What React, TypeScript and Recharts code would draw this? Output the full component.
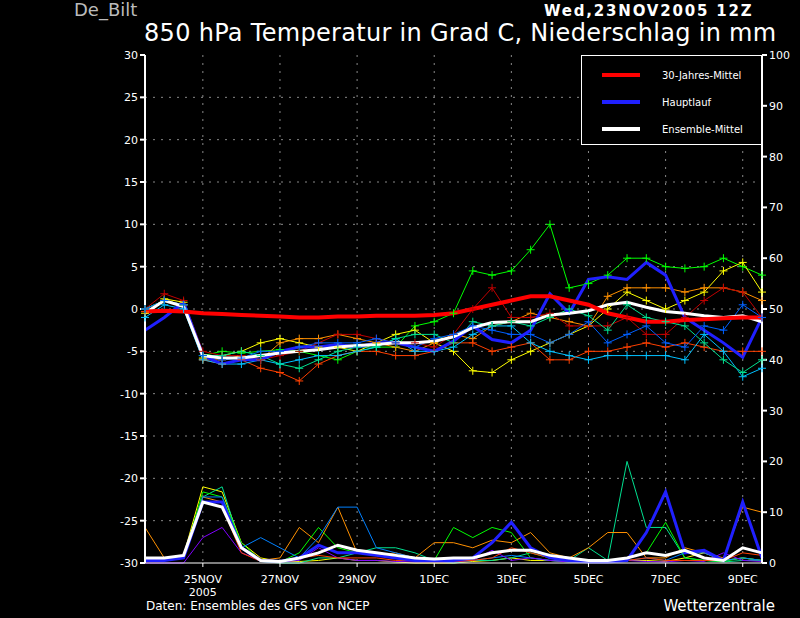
import React from 'react';
import { ComposedChart, Line, XAxis, YAxis, CartesianGrid } from 'recharts';

const steps = Array.from({ length: 33 }, (_, i) => i);
const tickIdx = [3, 7, 11, 15, 19, 23, 27, 31];
const tickLabels = ['25NOV', '27NOV', '29NOV', '1DEC', '3DEC', '5DEC', '7DEC', '9DEC'];

const climTemp = [-0.3,-0.2,-0.3,-0.5,-0.6,-0.7,-0.8,-0.9,-1,-1,-0.9,-0.9,-0.8,-0.8,-0.8,-0.7,-0.5,0,0.5,1,1.5,1.5,1,0.5,-0.5,-1,-1.5,-1.5,-1.3,-1.2,-1.1,-1,-1];
const mainTemp = [-2.5,-1,0.8,-5.5,-6.5,-6,-6,-5,-4.5,-4.5,-4.2,-4.5,-4,-4,-4.5,-5,-3.8,-2,-3.6,-4,-2.5,1.8,-0.5,3.5,3.8,3.5,5.5,4,-1,-2.5,-4,-5.7,-1];
const meanTemp = [-0.5,1,0.3,-5.5,-5.8,-5.8,-5.5,-5.2,-5,-4.8,-4.5,-4.3,-4.2,-4,-4,-3.8,-3.3,-2.2,-1.6,-1.5,-1.5,-0.7,-0.5,-0.2,0.5,0.8,0.2,-0.3,-0.5,-0.8,-1,-0.8,-1.5];
const m1 = [0,1,0.5,-5.5,-5,-5.2,-5,-4.8,-5,-5.5,-6,-5,-4.5,-4.5,-2,-1.5,-0.5,4.5,4,4.5,7,10,2.5,3,4,6,6,5,4.8,5,6,5,4];
const m2 = [-0.5,1.2,0.8,-5.8,-5.5,-5,-4,-3.5,-4,-4.5,-4.5,-5,-4,-3,-2.5,-4,-5,-7.3,-7.5,-6,-5,-4,-3,-2,0,2,1,0,1,2,4.5,5.5,2];
const m3 = [0,1,0.5,-6,-6,-5.5,-6,-4,-3.5,-3.5,-3,-3.5,-4,-4.5,-5,-4,-3,-3.5,-2,-1.5,-0.5,-1,-1.5,-2,1.5,2.5,2.5,2.5,2,2.5,2.5,2,1];
const m4 = [-0.3,1,0.5,-6,-6.5,-6,-7,-7.5,-8.5,-6.5,-5.5,-5,-5,-5.5,-5.5,-5,-4,-4,-5,-4.5,-4,-6,-6,-5,-5,-4.5,-4,-4.5,-4,-4.5,-5,-5,-5];
const m5 = [-1,0.5,0,-6,-6.5,-6.5,-6,-6.5,-6,-5.5,-5.5,-5,-4.5,-3.5,-5,-5,-4.5,-3,-2,-2,-4,-5,-5.5,-6,-5.5,-5.5,-5.5,-5.5,-6,-3,-5,-8,-7];
const m6 = [0,1.8,1,-5,-5.5,-5.5,-6,-5.5,-5,-4,-3,-3,-3.5,-4,-4,-4.5,-3,0,2.5,-1,-1,-0.5,-2,-2,-2,-1,-3,-3,-1,1,2.5,2,-1];
const m7 = [0,1,0.5,-5.5,-5.5,-5,-5.5,-6.5,-7,-6,-5,-4.5,-4.5,-3.5,-3,-3,-4,-1.5,-2,-1.5,-2,-1,0,-0.8,-2.5,0.5,-1,-1.5,-2,-4,-6,-7.5,-6];
const m8 = [0,1,0.5,-5.5,-6,-5.8,-5,-5,-4.5,-4,-4,-4,-3.5,-4,-4.5,-3.5,-3,-2,-2.5,-3,-3,-4,-3,-1.5,-4,-3,-2,-4,-4.5,-2,-2.5,0.5,-1];

const mainPrec = [0.5,0.5,1,12,12,3,0.5,0.3,1,3.5,2,2,1.5,1,0.5,0.5,0.5,1,4,8,3,1,0.5,0.2,0.2,0.5,6,14,2,2.5,0.5,12,1];
const meanPrec = [1,1,1.5,12,11,3,0.5,0.3,1,2,3.5,2.5,2,1.5,1,0.8,1,1,2,2.5,2.5,1.5,1,0.5,0.5,1,2,1.5,2.5,1,0.5,3,2];
const p1 = [1,1,1.5,15,14,4,1,0.3,0.3,0.5,1,0.5,0.5,0.2,0,0,0,0.3,0.5,1,0.5,0.5,0.3,0.2,0.2,0.5,0.5,0.3,1,2,0.5,1,0.5];
const p2 = [1,0.5,1.5,13,15,3,0.3,0,0,1,1,2,3,3,2,0.5,0,0.5,0.5,1,2,1,0.5,3,0.5,20,7,7,1,0.5,0.2,0.5,0.5];
const p3 = [7,1,1.5,13,12,3,0.5,1,7,4,11,2,1.5,2,1,4,4,3,4.5,4,6,2,1,3,6,6,1,1,3,2,1,11,10];
const p4 = [1,0.5,1,14,13,4,0.5,0.2,2,7,3,2,1.5,1,0.5,0.5,7,5,7,6,1,0.5,0.2,0.2,0.5,1,2,8,1,0.5,0.3,1,0.5];
const p5 = [0.5,0.5,1,13,13,3,5,3,1,5,11,11,3,2,1,0.5,0.5,0.5,1,1.5,1,0.5,0.3,0.2,0.5,0.5,1,0.5,2,2,0.5,1,0.5];
const p6 = [0,0,0,5,7,2,0.5,0.2,0.5,3,1,0.5,0.5,0.3,0.2,0.2,0.2,0.5,2.5,0.5,1,0.5,0.2,0.2,0.2,0.5,0.3,0.2,0.5,0.3,2,0.5,0.3];
const p7 = [0.5,0.5,1,12,11,2,0.3,0.3,1,1.5,1,1,1,0.5,0.5,0.3,0.3,0.5,1,3,2,1,0.5,0.5,0.5,0.5,1,0.5,0.5,0.5,0.5,2,1.5];

const members = [
  { key: 'm1', v: m1, c: '#00ff00' },
  { key: 'm2', v: m2, c: '#ffff00' },
  { key: 'm3', v: m3, c: '#ff9000' },
  { key: 'm4', v: m4, c: '#ff4000' },
  { key: 'm5', v: m5, c: '#00c0ff' },
  { key: 'm6', v: m6, c: '#c00000' },
  { key: 'm7', v: m7, c: '#00e090' },
  { key: 'm8', v: m8, c: '#0060ff' },
];
const precMembers = [
  { key: 'p1', v: p1, c: '#ffff00' },
  { key: 'p2', v: p2, c: '#00e090' },
  { key: 'p3', v: p3, c: '#ff9000' },
  { key: 'p4', v: p4, c: '#00ff00' },
  { key: 'p5', v: p5, c: '#0080ff' },
  { key: 'p6', v: p6, c: '#8000ff' },
  { key: 'p7', v: p7, c: '#ff4000' },
];

const data = steps.map((t, i) => {
  const row: any = { t, clim: climTemp[i], main: mainTemp[i], mean: meanTemp[i], mainP: mainPrec[i], meanP: meanPrec[i] };
  members.forEach(m => { row[m.key] = m.v[i]; });
  precMembers.forEach(m => { row[m.key] = m.v[i]; });
  return row;
});

const Cross = (color: string) => (props: any) => {
  const { cx, cy, index } = props;
  if (cx == null || cy == null) return <g key={index} />;
  return (
    <g key={index} stroke={color} strokeWidth={1}>
      <line x1={cx - 4} y1={cy} x2={cx + 4} y2={cy} />
      <line x1={cx} y1={cy - 4} x2={cx} y2={cy + 4} />
    </g>
  );
};

const XTick = (props: any) => {
  const { x, y, payload } = props;
  const i = tickIdx.indexOf(payload.value);
  return (
    <g>
      <text x={x} y={y + 14} fill="#fff" fontSize={11} textAnchor="middle" fontFamily="DejaVu Sans">{tickLabels[i]}</text>
      {i === 0 && <text x={x} y={y + 27} fill="#fff" fontSize={11} textAnchor="middle" fontFamily="DejaVu Sans">2005</text>}
    </g>
  );
};

const LegendBox = () => (
  <div style={{ position: 'absolute', left: 581, top: 55, width: 179, height: 88, border: '1px solid #fff', background: '#000', fontFamily: 'DejaVu Sans', fontSize: 10, color: '#fff' }}>
    {[['#ff0000', '30-Jahres-Mittel'], ['#2020ff', 'Hauptlauf'], ['#ffffff', 'Ensemble-Mittel']].map(([c, l], i) => (
      <div key={l} style={{ display: 'flex', alignItems: 'center', height: 20, marginTop: i === 0 ? 9 : 7 }}>
        <div style={{ width: 38, height: 4, background: c, marginLeft: 20, marginRight: 22 }} />
        <span>{l}</span>
      </div>
    ))}
  </div>
);

export default function App() {
  return (
    <div style={{ position: 'absolute', left: 0, top: 0, width: 800, height: 618, background: '#000', overflow: 'hidden' }}>
      <div style={{ position: 'absolute', left: 74, top: 0, color: '#bbb', fontSize: 18, lineHeight: '20px', fontFamily: 'DejaVu Sans' }}>De_Bilt</div>
      <div style={{ position: 'absolute', left: 544, top: 4, color: '#fff', fontSize: 15, lineHeight: '15px', letterSpacing: 1.8, fontWeight: 'bold', fontFamily: 'DejaVu Sans' }}>Wed,23NOV2005 12Z</div>
      <div style={{ position: 'absolute', left: 144, top: 21, color: '#fff', fontSize: 24, lineHeight: '25px', letterSpacing: 0.3, fontFamily: 'DejaVu Sans' }}>850 hPa Temperatur in Grad C, Niederschlag in mm</div>
      <div style={{ position: 'absolute', left: 146, top: 599, color: '#fff', fontSize: 12, fontFamily: 'DejaVu Sans' }}>Daten: Ensembles des GFS von NCEP</div>
      <div style={{ position: 'absolute', right: 25, top: 597, color: '#fff', fontSize: 15, fontFamily: 'DejaVu Sans' }}>Wetterzentrale</div>
      <ComposedChart width={800} height={618} data={data} margin={{ top: 55, right: 0, left: 0, bottom: 0 }}>
        <CartesianGrid yAxisId="l" stroke="#888" strokeDasharray="2 6" horizontalValues={[-25,-20,-15,-10,-5,0,5,10,15,20,25]} verticalValues={tickIdx} />
        <XAxis dataKey="t" type="number" domain={[0, 32]} ticks={tickIdx} height={55} stroke="#fff" tick={<XTick />} tickSize={4} />
        <YAxis yAxisId="l" domain={[-30, 30]} ticks={[-30,-25,-20,-15,-10,-5,0,5,10,15,20,25,30]} width={145} stroke="#fff" strokeWidth={2} tick={{ fill: '#fff', fontSize: 11, fontFamily: 'DejaVu Sans' }} tickSize={5} />
        <YAxis yAxisId="r" orientation="right" domain={[0, 100]} ticks={[0,10,20,30,40,50,60,70,80,90,100]} width={38} stroke="#fff" strokeWidth={2} tick={{ fill: '#fff', fontSize: 11, fontFamily: 'DejaVu Sans' }} tickSize={5} />
        {precMembers.map(m => (
          <Line key={m.key} yAxisId="r" dataKey={m.key} stroke={m.c} strokeWidth={1} dot={false} isAnimationActive={false} />
        ))}
        <Line yAxisId="r" dataKey="mainP" stroke="#2020ff" strokeWidth={3} dot={false} isAnimationActive={false} />
        <Line yAxisId="r" dataKey="meanP" stroke="#fff" strokeWidth={3} dot={false} isAnimationActive={false} />
        {members.map(m => (
          <Line key={m.key} yAxisId="l" dataKey={m.key} stroke={m.c} strokeWidth={1} dot={Cross(m.c)} isAnimationActive={false} />
        ))}
        <Line yAxisId="l" dataKey="main" stroke="#2020ff" strokeWidth={3} dot={false} isAnimationActive={false} />
        <Line yAxisId="l" dataKey="mean" stroke="#fff" strokeWidth={3} dot={false} isAnimationActive={false} />
        <Line yAxisId="l" dataKey="clim" stroke="#ff0000" strokeWidth={4} dot={false} isAnimationActive={false} />
      </ComposedChart>
      <LegendBox />
    </div>
  );
}
